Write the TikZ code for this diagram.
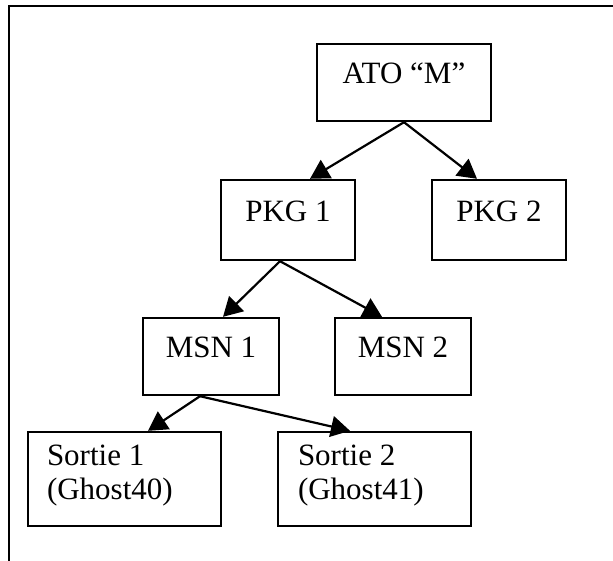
\documentclass[tikz,border=0pt]{standalone}
\usepackage{fontspec}
\setmainfont{Liberation Serif}
\usetikzlibrary{arrows.meta}
\begin{document}
\begin{tikzpicture}[x=1pt,y=-1pt,
  box/.style={draw, line width=2.4pt, inner xsep=0pt, inner ysep=0pt,
    font=\fontsize{31}{34}\selectfont, anchor=center},
  onebox/.style={box, text height=39pt, text depth=38pt},
  conn/.style={line width=2.2pt, -{Triangle[length=19pt,width=21pt]}}]
\useasboundingbox (0,0) rectangle (613,560);
% outer frame (left and top edges visible)
\draw[line width=2.4pt] (620,6) -- (9,6) -- (9,570);
% boxes
\node[onebox, minimum width=174pt, minimum height=77pt] (ato) at (404,82.5) {ATO “M”};
\node[box, text height=41pt, text depth=39pt, minimum width=134pt, minimum height=80pt] (pkg1) at (288,220) {PKG 1};
\node[box, text height=41pt, text depth=39pt, minimum width=134pt, minimum height=80pt] (pkg2) at (499,220) {PKG 2};
\node[onebox, minimum width=136pt, minimum height=77pt] (msn1) at (211,356.5) {MSN 1};
\node[onebox, minimum width=136pt, minimum height=77pt] (msn2) at (403,356.5) {MSN 2};
\node[draw, line width=2.4pt, minimum width=193pt, minimum height=94pt] (s1) at (124.5,479) {};
\node[draw, line width=2.4pt, minimum width=193pt, minimum height=94pt] (s2) at (374.5,479) {};
\node[font=\fontsize{31}{34}\selectfont, align=left, anchor=north west, inner sep=0pt] (s1t) at ([xshift=20pt,yshift=-14pt]s1.north west) {Sortie 1\\(Ghost40)};
\node[font=\fontsize{31}{34}\selectfont, align=left, anchor=north west, inner sep=0pt] (s2t) at ([xshift=21pt,yshift=-14pt]s2.north west) {Sortie 2\\(Ghost41)};
% connectors
\draw[conn] (ato.south) -- ([xshift=22pt]pkg1.north);
\draw[conn] (ato.south) -- ([xshift=-22pt]pkg2.north);
\draw[conn] ([xshift=-8pt]pkg1.south) -- ([xshift=12pt]msn1.north);
\draw[conn] ([xshift=-8pt]pkg1.south) -- ([xshift=-21pt]msn2.north);
\draw[conn] ([xshift=-11pt]msn1.south) -- ([xshift=23.5pt]s1.north);
\draw[conn] ([xshift=-11pt]msn1.south) -- ([xshift=-24.5pt]s2.north);
\end{tikzpicture}
\end{document}
